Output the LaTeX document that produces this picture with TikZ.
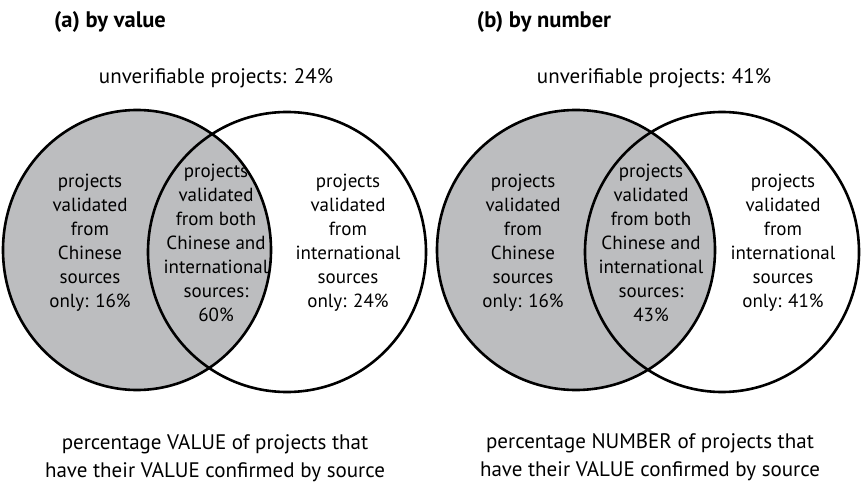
\documentclass[tikz,border=0pt]{standalone}
\usepackage{fontspec}
\setmainfont{PT Sans}
\definecolor{venngray}{HTML}{BCBDBF}
\tikzset{
    ring/.style = {draw = black, line width = 2.6pt},
    label/.style = {align = center, font = \fontsize{19}{24}\selectfont, inner sep = 0pt},
    caption/.style = {align = center, font = \fontsize{21}{28}\selectfont, inner sep = 0pt},
    title/.style = {font = \fontsize{22.5}{26}\selectfont\bfseries, inner sep = 0pt}
}

\begin{document}
\begin{tikzpicture}[x = 1pt, y = -1pt]
    \useasboundingbox (0,0) rectangle (861,486);
    % (a) by value
    \node[title] (ta) at (110,22) {(a) by value};
    \node[caption] (ua) at (216,78) {unverifiable projects: 24\%};
    \fill[venngray] (137,250) ellipse (134 and 140);
    \draw[ring] (137,250) ellipse (134 and 140);
    \draw[ring] (287,252) ellipse (139 and 140);
    \node[label] (ca) at (90,243) {projects\\validated\\from\\Chinese\\sources\\only: 16\%};
    \node[label] (ba) at (216,243) {projects\\validated\\from both\\Chinese and\\international\\sources:\\60\%};
    \node[label] (ia) at (348,243) {projects\\validated\\from\\international\\sources\\only: 24\%};
    \node[caption] (pa) at (215,458) {percentage VALUE of projects that\\have their VALUE confirmed by source};
    % (b) by number
    \node[title] (tb) at (544,22) {(b) by number};
    \node[caption] (ub) at (654,78) {unverifiable projects: 41\%};
    \fill[venngray] (576,250) ellipse (139 and 140);
    \draw[ring] (576,250) ellipse (139 and 140);
    \draw[ring] (722,252) ellipse (137 and 140);
    \node[label] (cb) at (523,243) {projects\\validated\\from\\Chinese\\sources\\only: 16\%};
    \node[label] (bb) at (651,243) {projects\\validated\\from both\\Chinese and\\international\\sources:\\43\%};
    \node[label] (ib) at (783,243) {projects\\validated\\from\\international\\sources\\only: 41\%};
    \node[caption] (pb) at (650,457) {percentage NUMBER of projects that\\have their VALUE confirmed by source};
\end{tikzpicture}
\end{document}
